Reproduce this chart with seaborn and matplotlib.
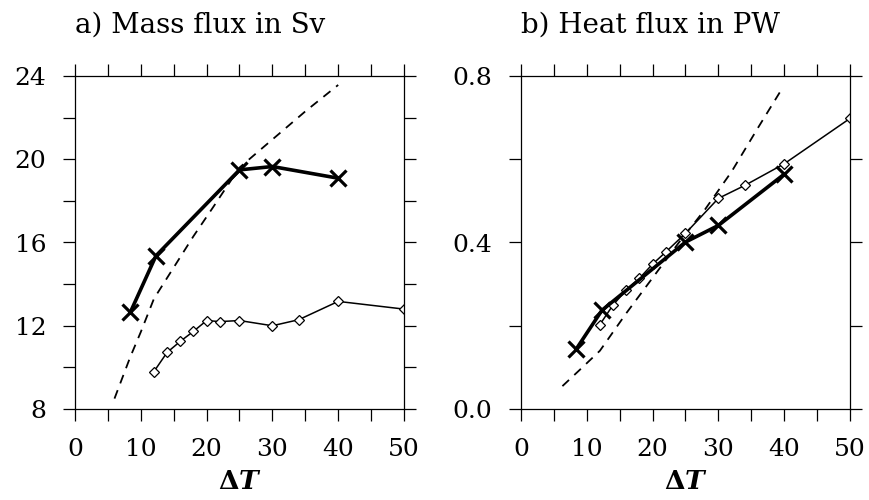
import numpy as np
import pandas as pd
import seaborn as sns
import matplotlib.pyplot as plt
from matplotlib.ticker import MultipleLocator, FormatStrFormatter

# values
# thick line with crosses
cross_dt = [8.4, 12.3, 25, 30, 40]
cross_mass = [12.64, 15.36, 19.49, 19.65, 19.09]
cross_heat = [0.144, 0.237, 0.401, 0.441, 0.564]

# thin line with diamonds
diam_dt = [12, 14, 16, 18, 20, 22, 25, 30, 34, 40, 50]
diam_mass = [9.8, 10.72, 11.25, 11.73, 12.25, 12.2, 12.25, 12.0, 12.29, 13.17, 12.8]
diam_heat = [0.203, 0.250, 0.286, 0.314, 0.348, 0.377, 0.422, 0.506, 0.537, 0.589, 0.698]

# dashed curves
dash_mass_dt = [6, 8.4, 10, 12, 15, 18, 21, 25, 30, 35, 40]
dash_mass = [8.5, 10.5, 11.7, 13.3, 14.8, 16.3, 17.7, 19.6, 20.95, 22.3, 23.57]
dash_heat_dt = [6.3, 9, 12, 16, 20, 24, 28, 32, 36, 39.5]
dash_heat = [0.055, 0.095, 0.14, 0.23, 0.315, 0.40, 0.48, 0.57, 0.675, 0.765]

sns.set_style("ticks")
plt.rcParams['font.family'] = ['DejaVu Serif']
plt.rcParams['text.color'] = 'black'
plt.rcParams['axes.labelcolor'] = 'black'
plt.rcParams['xtick.color'] = 'black'
plt.rcParams['ytick.color'] = 'black'
plt.rcParams['mathtext.fontset'] = 'custom'
plt.rcParams['mathtext.rm'] = 'DejaVu Serif:bold'
plt.rcParams['mathtext.it'] = 'DejaVu Serif:bold:italic'

fig = plt.figure(figsize=(8.69, 5), dpi=100)
ax1 = fig.add_axes([0.0863, 0.182, 0.3786, 0.666])
ax2 = fig.add_axes([0.5995, 0.182, 0.3786, 0.666])

panels = [
    (ax1, cross_mass, diam_mass, dash_mass_dt, dash_mass, "a) Mass flux in Sv", (8, 24), 4, 2, "%d"),
    (ax2, cross_heat, diam_heat, dash_heat_dt, dash_heat, "b) Heat flux in PW", (0, 0.8), 0.4, 0.2, "%.1f"),
]

for ax, cr, dm, ddt, dsh, title, ylim, ymaj, ymin, fmt in panels:
    df_dash = pd.DataFrame({"dt": ddt, "val": dsh})
    df_cross = pd.DataFrame({"dt": cross_dt, "val": cr})
    df_diam = pd.DataFrame({"dt": diam_dt, "val": dm})

    sns.lineplot(data=df_dash, x="dt", y="val", ax=ax, color="black", lw=1.3,
                 linestyle=(0, (5, 4)), sort=False)
    sns.lineplot(data=df_diam, x="dt", y="val", ax=ax, color="black", lw=1.1,
                 marker="D", markersize=5, markerfacecolor="white",
                 markeredgecolor="black", markeredgewidth=0.9, sort=False)
    sns.lineplot(data=df_cross, x="dt", y="val", ax=ax, color="black", lw=2.6,
                 marker="x", markersize=11, markeredgecolor="black",
                 markeredgewidth=2.3, sort=False)

    ax.set_xlim(0, 50)
    ax.set_ylim(*ylim)
    ax.xaxis.set_major_locator(MultipleLocator(10))
    ax.xaxis.set_minor_locator(MultipleLocator(5))
    ax.yaxis.set_major_locator(MultipleLocator(ymaj))
    ax.yaxis.set_minor_locator(MultipleLocator(ymin))
    ax.yaxis.set_major_formatter(FormatStrFormatter(fmt))
    ax.tick_params(which="both", direction="out", length=8.6, width=0.9,
                   top=True, right=True, color="black")
    ax.tick_params(axis="y", which="major", labelsize=18, pad=12)
    ax.tick_params(axis="x", which="major", labelsize=18, pad=12)
    for sp in ax.spines.values():
        sp.set_visible(True)
        sp.set_linewidth(0.9)
        sp.set_color("black")
    ax.set_ylabel("")
    ax.set_xlabel(r"$\Delta T$", fontsize=19, labelpad=6)
    ax.set_title(title, loc="left", fontsize=20, pad=31)

fig.savefig("out.png", dpi=100)
